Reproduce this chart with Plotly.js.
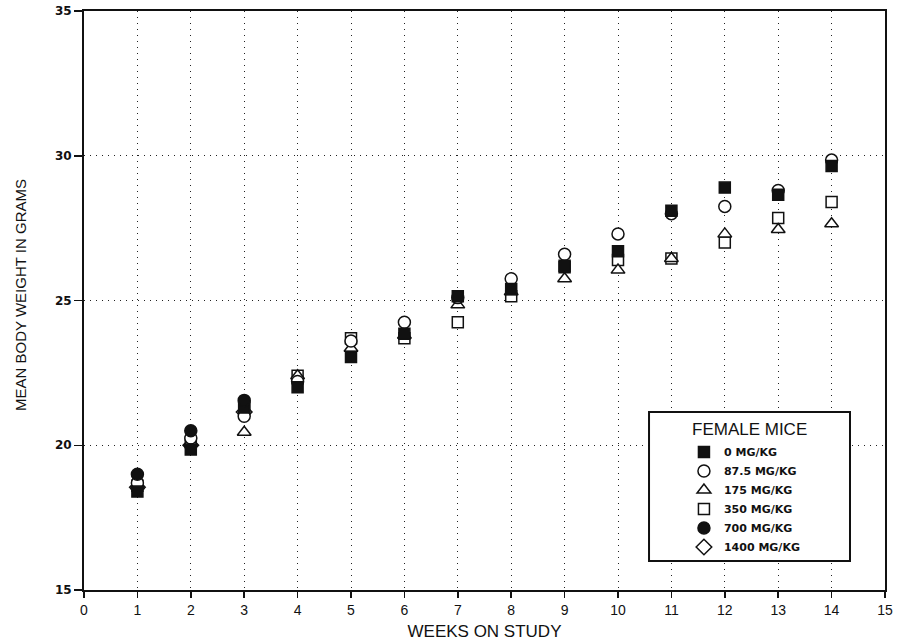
<!DOCTYPE html>
<html>
<head>
<meta charset="utf-8">
<script src="https://cdn.plot.ly/plotly-3.0.1.min.js"></script>
<style>html,body{margin:0;padding:0;background:#fff;}#chart{width:901px;height:643px;}</style>
</head>
<body>
<div id="chart"></div>
<script>
const weeks = [1,2,3,4,5,6,7,8,9,10,11,12,13,14];
const weeksHigh = [1,2,3];
const dose0    = [18.4,19.85,21.3,22.0,23.05,23.85,25.15,25.4,26.2,26.7,28.1,28.9,28.65,29.65];
const dose87_5 = [18.7,20.25,21.0,22.2,23.6,24.25,25.1,25.75,26.6,27.3,28.0,28.25,28.8,29.85];
const dose175  = [18.6,20.1,20.45,22.4,23.35,23.8,24.85,25.3,25.75,26.05,26.45,27.3,27.45,27.65];
const dose350  = [18.6,20.1,21.3,22.4,23.7,23.7,24.25,25.15,26.15,26.4,26.45,27.0,27.85,28.4];
const dose700  = [19.0,20.5,21.55];
const dose1400 = [18.55,20.0,21.15];
const seriesNames = ['0 MG/KG','87.5 MG/KG','175 MG/KG','350 MG/KG','700 MG/KG','1400 MG/KG'];
const legendTitle = 'FEMALE MICE';
const xTitle = 'WEEKS ON STUDY';
const yTitle = 'MEAN BODY WEIGHT IN GRAMS';
const xTicks = [0,1,2,3,4,5,6,7,8,9,10,11,12,13,14,15];
const yTicks = [15,20,25,30,35];

function tr(x, y, name, symbol, fill, rank, size) {
  return {
    x: x, y: y, name: name, type: 'scatter', mode: 'markers', legendrank: rank,
    marker: {symbol: symbol, size: size, color: fill, line: {color: '#111', width: 1.5}},
    cliponaxis: false
  };
}

const data = [
  tr(weeksHigh, dose1400, seriesNames[5], 'diamond', '#fff', 6, 12),
  tr(weeks, dose350, seriesNames[3], 'square', '#fff', 4, 11),
  tr(weeks, dose175, seriesNames[2], 'triangle-up', '#fff', 3, 12),
  tr(weeks, dose87_5, seriesNames[1], 'circle', '#fff', 2, 12),
  tr(weeks, dose0, seriesNames[0], 'square', '#111', 1, 11),
  tr(weeksHigh, dose700, seriesNames[4], 'circle', '#111', 5, 12)
];

const layout = {
  width: 901, height: 643,
  margin: {l: 84, r: 16, t: 11, b: 53},
  paper_bgcolor: '#fff', plot_bgcolor: '#fff',
  font: {family: 'Liberation Sans, Arial, sans-serif', color: '#111'},
  showlegend: true,
  legend: {
    x: 0.749, y: 0.2634, xanchor: 'left', yanchor: 'top',
    borderwidth: 0, bgcolor: 'rgba(0,0,0,0)',
    font: {size: 11, family: 'DejaVu Sans, sans-serif', weight: 'bold'},
    tracegroupgap: 0,
    itemwidth: 30
  },
  shapes: [{
    type: 'rect', xref: 'paper', yref: 'paper', layer: 'above',
    x0: 0.7054, x1: 0.9563, y0: 0.0501, y1: 0.3074,
    line: {color: '#111', width: 2}, fillcolor: '#fff'
  }],
  annotations: [
    {text: legendTitle, xref: 'paper', yref: 'paper', x: 0.831, y: 0.278,
     xanchor: 'center', yanchor: 'middle', showarrow: false,
     font: {size: 17, family: 'Liberation Sans, Arial, sans-serif', color: '#111'}},
    {text: yTitle, xref: 'paper', yref: 'paper', x: -0.0787, y: 0.5095,
     xanchor: 'center', yanchor: 'middle', showarrow: false, textangle: -90,
     font: {size: 15, family: 'Liberation Sans Narrow, Liberation Sans, sans-serif', color: '#111'}}
  ],
  xaxis: {
    range: [0, 15], tickvals: xTicks, ticktext: xTicks.map(String),
    showgrid: true, gridcolor: '#222', gridwidth: 1, griddash: '1px,5px',
    zeroline: false, showline: true, linecolor: '#111', linewidth: 2, mirror: true,
    ticks: 'outside', ticklen: 6, tickwidth: 1.5, tickcolor: '#111',
    tickfont: {size: 14, family: 'Liberation Sans Narrow, Liberation Sans, sans-serif'},
    title: {text: xTitle, font: {size: 17, family: 'Liberation Sans Narrow, Liberation Sans, sans-serif'}, standoff: 8}
  },
  yaxis: {
    range: [15, 35], tickvals: yTicks, ticktext: yTicks.map(String),
    showgrid: true, gridcolor: '#222', gridwidth: 1, griddash: '1px,5px',
    zeroline: false, showline: true, linecolor: '#111', linewidth: 2, mirror: true,
    ticks: 'outside', ticklen: 8, tickwidth: 1.5, tickcolor: '#111',
    tickfont: {size: 12, family: 'DejaVu Sans, sans-serif', weight: 'bold'}
  }
};

Plotly.newPlot('chart', data, layout, {staticPlot: true});
</script>
</body>
</html>
